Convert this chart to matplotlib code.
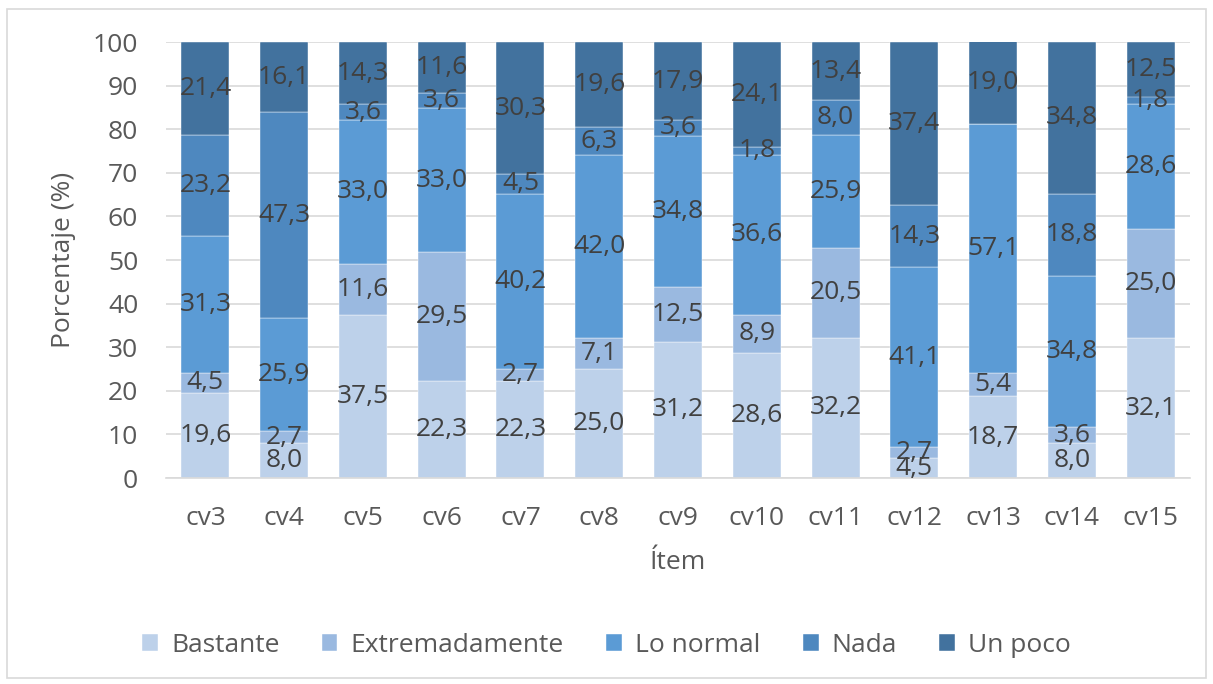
import numpy as np
import matplotlib.pyplot as plt
from matplotlib.patches import Rectangle

items = ['cv3', 'cv4', 'cv5', 'cv6', 'cv7', 'cv8', 'cv9', 'cv10', 'cv11', 'cv12', 'cv13', 'cv14', 'cv15']
bastante = [19.6, 8.0, 37.5, 22.3, 22.3, 25.0, 31.2, 28.6, 32.2, 4.5, 18.7, 8.0, 32.1]
extremadamente = [4.5, 2.7, 11.6, 29.5, 2.7, 7.1, 12.5, 8.9, 20.5, 2.7, 5.4, 3.6, 25.0]
lo_normal = [31.3, 25.9, 33.0, 33.0, 40.2, 42.0, 34.8, 36.6, 25.9, 41.1, 57.1, 34.8, 28.6]
nada = [23.2, 47.3, 3.6, 3.6, 4.5, 6.3, 3.6, 1.8, 8.0, 14.3, 0.0, 18.8, 1.8]
un_poco = [21.4, 16.1, 14.3, 11.6, 30.3, 19.6, 17.9, 24.1, 13.4, 37.4, 19.0, 34.8, 12.5]

series = [('Bastante', bastante, '#bdd1ea'),
          ('Extremadamente', extremadamente, '#9ab9e0'),
          ('Lo normal', lo_normal, '#5b9bd5'),
          ('Nada', nada, '#4e88bf'),
          ('Un poco', un_poco, '#42729e')]

plt.rcParams['font.family'] = ['Open Sans', 'DejaVu Sans']

fig = plt.figure(figsize=(12.13, 6.84), dpi=100)
ax = fig.add_axes([166 / 1213, 1 - 478 / 684, 1024 / 1213, 436 / 684])

pos = np.arange(len(items))
bottom = np.zeros(len(items))
for name, vals, col in series:
    vals = np.array(vals)
    ax.bar(pos, vals, 0.61, bottom=bottom, color=col, label=name, zorder=2,
           edgecolor='white', linewidth=0.3)
    for x, v, b in zip(pos, vals, bottom):
        if v > 0:
            ax.text(x, b + v / 2, ('%.1f' % v).replace('.', ','), ha='center', va='center',
                    fontsize=19, color='#404040', zorder=3)
    bottom += vals

ax.set_xlim(-0.5, len(items) - 0.5)
ax.set_ylim(0, 100)
ax.set_yticks(np.arange(0, 101, 10))
ax.yaxis.grid(True, color='#d9d9d9', linewidth=1.2, zorder=0)
ax.set_axisbelow(True)
for s in ['top', 'right', 'left']:
    ax.spines[s].set_visible(False)
ax.spines['bottom'].set_color('#d9d9d9')
ax.spines['bottom'].set_linewidth(1.2)
ax.tick_params(length=0, labelsize=19, colors='#595959')
ax.tick_params(axis='x', pad=20)
ax.tick_params(axis='y', pad=20)
ax.set_xticks(pos)
ax.set_xticklabels(items)
ax.set_xlabel('Ítem', fontsize=19, color='#595959', labelpad=14)
ax.set_ylabel('Porcentaje (%)', fontsize=19, color='#595959', labelpad=12)

fig.legend(loc='center', bbox_to_anchor=(0.5, 1 - 645 / 684), ncol=5, frameon=False,
           fontsize=19, labelcolor='#595959', handlelength=0.6, handleheight=0.6,
           columnspacing=1.6, handletextpad=0.5)

fig.patches.append(Rectangle((7 / 1213, 6 / 684), 1199 / 1213, 669 / 684, transform=fig.transFigure,
                             fill=False, edgecolor='#d9d9d9', linewidth=1.2))

fig.savefig('out.png', dpi=100)
